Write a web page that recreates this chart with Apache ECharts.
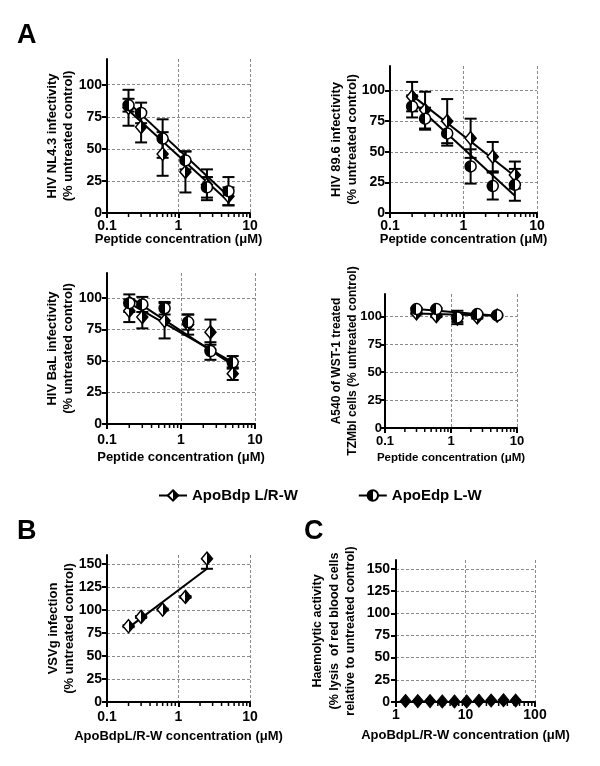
<!DOCTYPE html>
<html><head><meta charset="utf-8">
<script src="https://cdn.jsdelivr.net/npm/echarts@6/dist/echarts.min.js"></script>
<style>html,body{margin:0;padding:0;background:#fff}#c{width:600px;height:766px}</style>
</head><body><div id="c"></div>
<script>
// ---------- data ----------
const conc = [0.2, 0.3, 0.6, 1.25, 2.5, 5];
const fitX = [0.2, 5];
// HIV NL4.3
const nl43Bdp = [82, 67, 46, 32, 22, 13];
const nl43BdpErr = [14, 12, 17, 16, 12, 7];
const nl43Edp = [84, 78, 58, 41, 20, 17];
const nl43EdpErr = [5, 8, 15, 7, 8, 11];
const nl43BdpFit = [80, 9];
const nl43EdpFit = [86, 13];
// HIV 89.6
const h896Bdp = [95, 84, 75, 61, 46, 31];
const h896BdpErr = [12, 15, 18, 16, 12, 11];
const h896Edp = [87, 77, 65, 38, 22, 23];
const h896EdpErr = [9, 9, 10, 14, 11, 13];
const h896BdpFit = [96, 30];
const h896EdpFit = [91, 14];
// HIV BaL
const balBdp = [90, 85, 82, 79, 73, 40];
const balBdpErr = [9, 9, 14, 8, 10, 5];
const balEdp = [96, 95, 92, 81, 58, 49];
const balEdpErr = [7, 6, 5, 6, 7, 5];
const balBdpFit = [96, 49];
const balEdpFit = [101, 47];
// WST-1 toxicity
const concTox = [0.3, 0.6, 1.25, 2.5, 5];
const fitXTox = [0.3, 5];
const toxBdp = [102.7, 100.3, 98, 99, 100.6];
const toxBdpErr = [1, 1, 3, 1, 1];
const toxEdp = [106.5, 106.5, 99, 102, 101];
const toxEdpErr = [1, 1, 6, 1, 1];
const toxBdpFit = [102.5, 100.5];
const toxEdpFit = [106.5, 100.5];
// VSVg
const vsvX = [0.2, 0.3, 0.6, 1.25, 2.5];
const vsv = [82.5, 92.6, 100.6, 114.4, 156];
const vsvErr = [1, 1, 1, 1, 11];
const vsvFitX = [0.2, 2.5];
const vsvFit = [81, 145];
// Haemolysis
const haemX = [1.37, 2.06, 3.09, 4.63, 6.94, 10.4, 15.6, 23.4, 35.2, 52.7];
const haem = [1.2, 1, 1, 0.6, 0.6, 0.6, 1.5, 1.6, 2, 1.6];
// ticks
const yTicksA = [0, 25, 50, 75, 100];
const yTicksBC = [0, 25, 50, 75, 100, 125, 150];
const minorTicks01 = [0.2,0.3,0.4,0.5,0.6,0.7,0.8,0.9,2,3,4,5,6,7,8,9];
const minorTicks1 = [2,3,4,5,6,7,8,9,20,30,40,50,60,70,80,90];
const nameBdp = 'ApoBdp L/R-W';
const nameEdp = 'ApoEdp L-W';

// ---------- styles ----------
const FF = '"Liberation Sans", Arial, sans-serif';
const zip = (xs, ys) => xs.map((x, i) => [x, ys[i]]);
const zip3 = (xs, ys, es) => xs.map((x, i) => [x, ys[i], es[i]]);
const gradLR = (a, b) => ({type:'linear', x:0, y:0, x2:1, y2:0, colorStops:[
  {offset:0,color:a},{offset:0.5,color:a},{offset:0.5,color:b},{offset:1,color:b}]});
const diamondStyle = {color: gradLR('#fff', '#000'), borderColor:'#000', borderWidth:1.5, opacity:1};
const circleStyle = {color: gradLR('#000', '#fff'), borderColor:'#000', borderWidth:1.5, opacity:1};
const solidStyle = {color:'#000', borderColor:'#000', borderWidth:1, opacity:1};

const grids = [
  {left:107, top:59, width:143, height:154},
  {left:390, top:66, width:147, height:147},
  {left:107, top:273, width:148, height:151},
  {left:385, top:294, width:132, height:134},
  {left:107, top:555, width:143, height:147},
  {left:396, top:560, width:139, height:142}
];
const xMeta = [
  {min:0.1, max:10, name:'Peptide concentration (μM)', gap:20, margin:6, fs:13, lfs:14},
  {min:0.1, max:10, name:'Peptide concentration (μM)', gap:20, margin:6, fs:13, lfs:14},
  {min:0.1, max:10, name:'Peptide concentration (μM)', gap:27, margin:9, fs:13, lfs:14},
  {min:0.1, max:10, name:'Peptide concentration (μM)', gap:24, margin:7, fs:11.5, lfs:13},
  {min:0.1, max:10, name:'ApoBdpL/R-W concentration (μM)', gap:28, margin:8, fs:13, lfs:14},
  {min:1, max:100, name:'ApoBdpL/R-W concentration (μM)', gap:27, margin:6, fs:13, lfs:14}
];
const yMeta = [
  {max:120, ticks:yTicksA, name:'HIV NL4.3 infectivity\n(% untreated control)', gap:31, fs:13, lh:16, lfs:14, margin:5},
  {max:120, ticks:yTicksA, name:'HIV 89.6 infectivity\n(% untreated control)', gap:30, fs:13, lh:16, lfs:14, margin:5},
  {max:120, ticks:yTicksA, name:'HIV BaL infectivity\n(% untreated control)', gap:31, fs:13, lh:16, lfs:14, margin:5},
  {max:120, ticks:yTicksA, name:'A540 of WST-1 treated\nTZMbl cells (% untreated control)', gap:24, fs:12, lh:16, lfs:13, margin:3},
  {max:160, ticks:yTicksBC, name:'VSVg infection\n(% untreated control)', gap:30, fs:13, lh:16, lfs:14, margin:5},
  {max:160, ticks:yTicksBC, name:'Haemolytic activity\n(% lysis  of red blood cells\nrelative to untreated control)', gap:37, fs:12.5, lh:16.5, lfs:14, margin:6}
];

const splitStyle = {show:true, lineStyle:{color:'#8a8a8a', type:[3,2], width:1}};
const xAxis = [], yAxis = [];
grids.forEach((g, i) => {
  const m = xMeta[i];
  xAxis.push({type:'log', logBase:10, gridIndex:i, min:m.min, max:m.max,
    name:m.name, nameLocation:'middle', nameGap:m.gap, nameMoveOverlap:false,
    nameTextStyle:{fontFamily:FF, fontWeight:'bold', fontSize:m.fs, color:'#000'},
    axisLine:{lineStyle:{color:'#000', width:2}},
    axisTick:{length:5, lineStyle:{color:'#000', width:2}},
    axisLabel:{fontFamily:FF, fontWeight:'bold', fontSize:m.lfs, color:'#000', margin:m.margin},
    splitLine:splitStyle});
  const ym = yMeta[i];
  yAxis.push({type:'value', gridIndex:i, min:0, max:ym.max,
    name:ym.name, nameLocation:'middle', nameGap:ym.gap, nameMoveOverlap:false,
    nameTextStyle:{fontFamily:FF, fontWeight:'bold', fontSize:ym.fs, lineHeight:ym.lh, color:'#000'},
    axisLine:{show:true, lineStyle:{color:'#000', width:2}},
    axisTick:{show:true, length:5, lineStyle:{color:'#000', width:2}, customValues:ym.ticks},
    axisLabel:{fontFamily:FF, fontWeight:'bold', fontSize:ym.lfs, color:'#000', margin:ym.margin, customValues:ym.ticks},
    splitLine:splitStyle});
});

const series = [];
// minor log ticks, placed through the axis scale
function minorRender(params, api) {
  const p = api.coord([api.value(0), 0]);
  return {type:'line', shape:{x1:p[0], y1:p[1], x2:p[0], y2:p[1] + 4},
    style:{stroke:'#000', lineWidth:1.5}};
}
grids.forEach((g, i) => {
  series.push({type:'custom', xAxisIndex:i, yAxisIndex:i, clip:false, silent:true, z:1,
    data:(xMeta[i].min === 1 ? minorTicks1 : minorTicks01).map(v => [v, 0]),
    renderItem:minorRender});
});
function errRender(params, api) {
  const x = api.value(0), y = api.value(1), e = api.value(2);
  const t = api.coord([x, y + e]), b = api.coord([x, y - e]);
  const hw = 6, st = {stroke:'#000', lineWidth:2};
  return {type:'group', children:[
    {type:'line', shape:{x1:t[0], y1:t[1], x2:b[0], y2:b[1]}, style:st},
    {type:'line', shape:{x1:t[0]-hw, y1:t[1], x2:t[0]+hw, y2:t[1]}, style:st},
    {type:'line', shape:{x1:b[0]-hw, y1:b[1], x2:b[0]+hw, y2:b[1]}, style:st}
  ]};
}
function addFit(i, xs, ys) {
  series.push({type:'line', xAxisIndex:i, yAxisIndex:i, data:zip(xs, ys), symbol:'none',
    lineStyle:{color:'#000', width:2}, silent:true, z:2});
}
function addErr(i, xs, ys, es) {
  series.push({type:'custom', xAxisIndex:i, yAxisIndex:i, data:zip3(xs, ys, es),
    renderItem:errRender, clip:true, silent:true, z:3});
}
function addPts(i, xs, ys, kind) {
  series.push({type:'scatter', xAxisIndex:i, yAxisIndex:i, data:zip(xs, ys),
    symbol: kind === 'c' ? 'circle' : 'diamond',
    symbolSize: kind === 'c' ? 11 : [11, 13],
    itemStyle: kind === 'd' ? diamondStyle : (kind === 'c' ? circleStyle : solidStyle),
    silent:true, z:4});
}
function panel(i, xs, fx, bdp, bdpE, bdpF, edp, edpE, edpF) {
  addFit(i, fx, bdpF); addFit(i, fx, edpF);
  addErr(i, xs, bdp, bdpE); addErr(i, xs, edp, edpE);
  addPts(i, xs, bdp, 'd'); addPts(i, xs, edp, 'c');
}
panel(0, conc, fitX, nl43Bdp, nl43BdpErr, nl43BdpFit, nl43Edp, nl43EdpErr, nl43EdpFit);
panel(1, conc, fitX, h896Bdp, h896BdpErr, h896BdpFit, h896Edp, h896EdpErr, h896EdpFit);
panel(2, conc, fitX, balBdp, balBdpErr, balBdpFit, balEdp, balEdpErr, balEdpFit);
panel(3, concTox, fitXTox, toxBdp, toxBdpErr, toxBdpFit, toxEdp, toxEdpErr, toxEdpFit);
addFit(4, vsvFitX, vsvFit); addErr(4, vsvX, vsv, vsvErr); addPts(4, vsvX, vsv, 'd');
addPts(5, haemX, haem, 'f');
// legend-only series
series.push({type:'line', name:nameBdp, xAxisIndex:0, yAxisIndex:0, data:[], symbol:'diamond', symbolSize:[11,13],
  itemStyle:diamondStyle, lineStyle:{color:'#000', width:2.5}});
series.push({type:'line', name:nameEdp, xAxisIndex:0, yAxisIndex:0, data:[], symbol:'circle', symbolSize:11,
  itemStyle:circleStyle, lineStyle:{color:'#000', width:2.5}});

const letter = (t, l, tp) => ({text:t, left:l, top:tp, padding:0,
  textStyle:{fontFamily:FF, fontWeight:'bold', fontSize:27, color:'#000'}});

const chart = echarts.init(document.getElementById('c'), null, {renderer:'canvas'});
chart.setOption({
  animation:false,
  backgroundColor:'#fff',
  title:[letter('A', 17, 22), letter('B', 17, 518), letter('C', 304, 518)],
  legend:{data:[nameBdp, nameEdp], left:153, top:483, itemWidth:28, itemHeight:13, itemGap:60,
    selectedMode:false, textStyle:{fontFamily:FF, fontWeight:'bold', fontSize:15, color:'#000'}},
  grid:grids.map(g => Object.assign({outerBoundsMode:'none', containLabel:false}, g)),
  xAxis, yAxis, series
});
</script></body></html>
